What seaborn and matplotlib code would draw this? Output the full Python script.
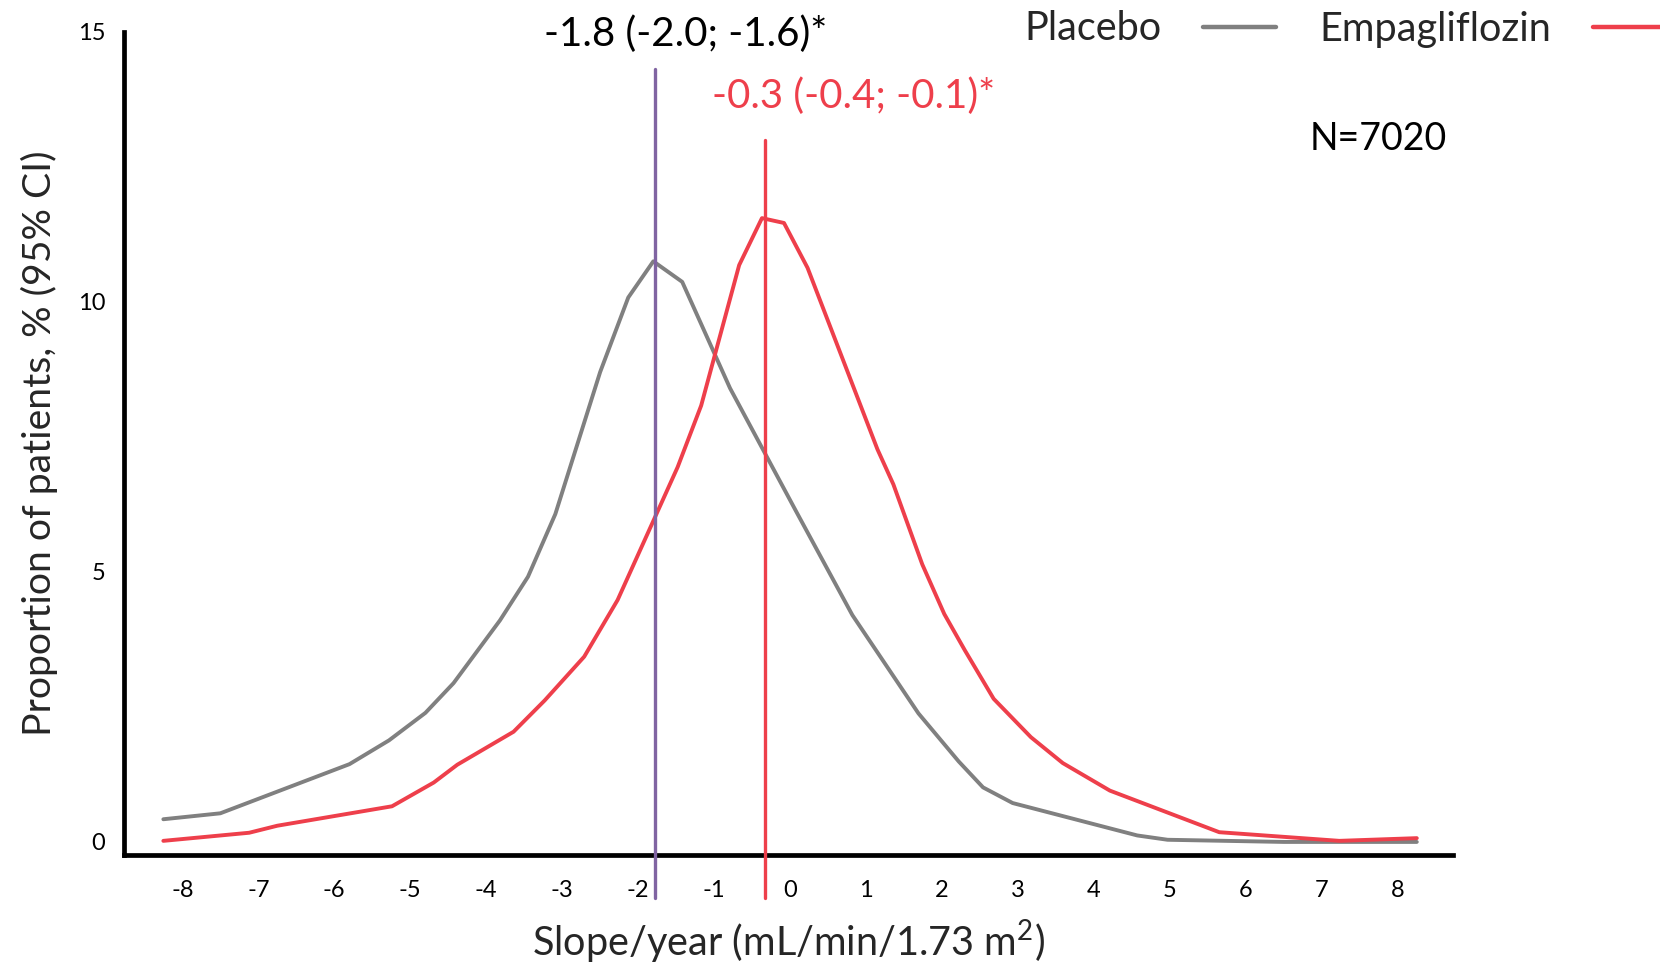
import numpy as np
import pandas as pd
import matplotlib
matplotlib.use("Agg")
import matplotlib.pyplot as plt
import seaborn as sns
from matplotlib.lines import Line2D

# --- DATA ---
placebo_x = [-8.25, -7.5, -5.8, -5.28, -4.8, -4.43, -3.82, -3.45, -3.09, -2.5,
             -2.13, -1.8, -1.42, -0.79, 0.08, 0.82, 1.69, 2.22, 2.54, 2.93,
             4.57, 4.97, 6.5, 8.25]
placebo_y = [0.42, 0.53, 1.44, 1.88, 2.39, 2.94, 4.1, 4.91, 6.07, 8.7,
             10.08, 10.75, 10.37, 8.4, 6.12, 4.2, 2.38, 1.49, 1.01, 0.72,
             0.12, 0.04, 0.0, 0.0]

empa_x = [-8.25, -7.12, -6.75, -5.24, -4.69, -4.38, -3.64, -3.23, -2.71, -2.27,
          -1.48, -1.17, -0.67, -0.37, -0.08, 0.23, 1.15, 1.36, 1.74, 2.03,
          2.3, 2.68, 3.17, 3.59, 4.21, 5.65, 7.23, 8.25]
empa_y = [0.02, 0.17, 0.3, 0.66, 1.1, 1.43, 2.04, 2.62, 3.43, 4.48,
          6.94, 8.08, 10.68, 11.55, 11.46, 10.63, 7.27, 6.62, 5.14, 4.22,
          3.55, 2.65, 1.94, 1.46, 0.95, 0.18, 0.02, 0.07]

# median slopes (vertical markers)
median_x = [-1.78, -0.33]
median_top = [14.32, 13.0]
median_text = ["-1.8 (-2.0; -1.6)*", "-0.3 (-0.4; -0.1)*"]

x_ticks = list(range(-8, 9))
y_ticks = [0, 5, 10, 15]

GRAY = "#808080"
RED = "#EE3F4B"
PURPLE = "#8064A2"

df = pd.concat([
    pd.DataFrame({"slope": placebo_x, "pct": placebo_y, "arm": "Placebo"}),
    pd.DataFrame({"slope": empa_x, "pct": empa_y, "arm": "Empagliflozin"}),
])

# --- PLOTTING ---
sns.set_style("white")
plt.rcParams["font.family"] = ["Lato", "DejaVu Sans"]
plt.rcParams["mathtext.fontset"] = "custom"
plt.rcParams["mathtext.rm"] = "Lato"
plt.rcParams["axes.unicode_minus"] = False

fig = plt.figure(figsize=(16.6, 9.69), dpi=100)
ax = fig.add_axes([0.0746, 0.1172, 0.8004, 0.8500])

sns.lineplot(data=df, x="slope", y="pct", hue="arm", estimator=None, sort=False,
             palette={"Placebo": GRAY, "Empagliflozin": RED},
             linewidth=2.8, legend=False, ax=ax)

for xv, top, col in zip(median_x, median_top, [PURPLE, RED]):
    ax.plot([xv, xv], [-1.04, top], color=col, lw=2.4, clip_on=False, zorder=3)

ax.set_xlim(-8.77, 8.72)
ax.set_ylim(-0.25, 15)
ax.set_xticks(x_ticks)
ax.set_yticks(y_ticks)
ax.tick_params(axis="both", direction="out", length=8.5, width=2.2, labelsize=17,
               color="black", labelcolor="black")
ax.tick_params(axis="x", pad=9)
ax.tick_params(axis="y", pad=5)

for side in ["top", "right"]:
    ax.spines[side].set_visible(False)
for side in ["left", "bottom"]:
    ax.spines[side].set_linewidth(3.4)
    ax.spines[side].set_color("black")

ax.set_xlabel("Slope/year (mL/min/1.73 m$^{2}$)", fontsize=28.5, labelpad=12)
ax.set_ylabel("Proportion of patients, % (95% CI)", fontsize=28.2, labelpad=14)

ax.text(-1.38, 14.96, median_text[0], fontsize=29, color="black",
        ha="center", va="center", clip_on=False)
ax.text(0.83, 13.8, median_text[1], fontsize=29, color=RED,
        ha="center", va="center", clip_on=False)
ax.text(7.74, 13.01, "N=7020", fontsize=27, color="black",
        ha="center", va="center")

handles = [Line2D([], [], color=GRAY, lw=3.2), Line2D([], [], color=RED, lw=3.2)]
fig.legend(handles, ["Placebo", "Empagliflozin"], ncol=2, markerfirst=False,
           frameon=False, loc="center left", fontsize=28.5,
           bbox_to_anchor=(1024 / 1660, 1 - 29 / 969),
           borderaxespad=0, borderpad=0, handlelength=1.85,
           handletextpad=1.05, columnspacing=1.1)

fig.savefig("out.png", dpi=100)
